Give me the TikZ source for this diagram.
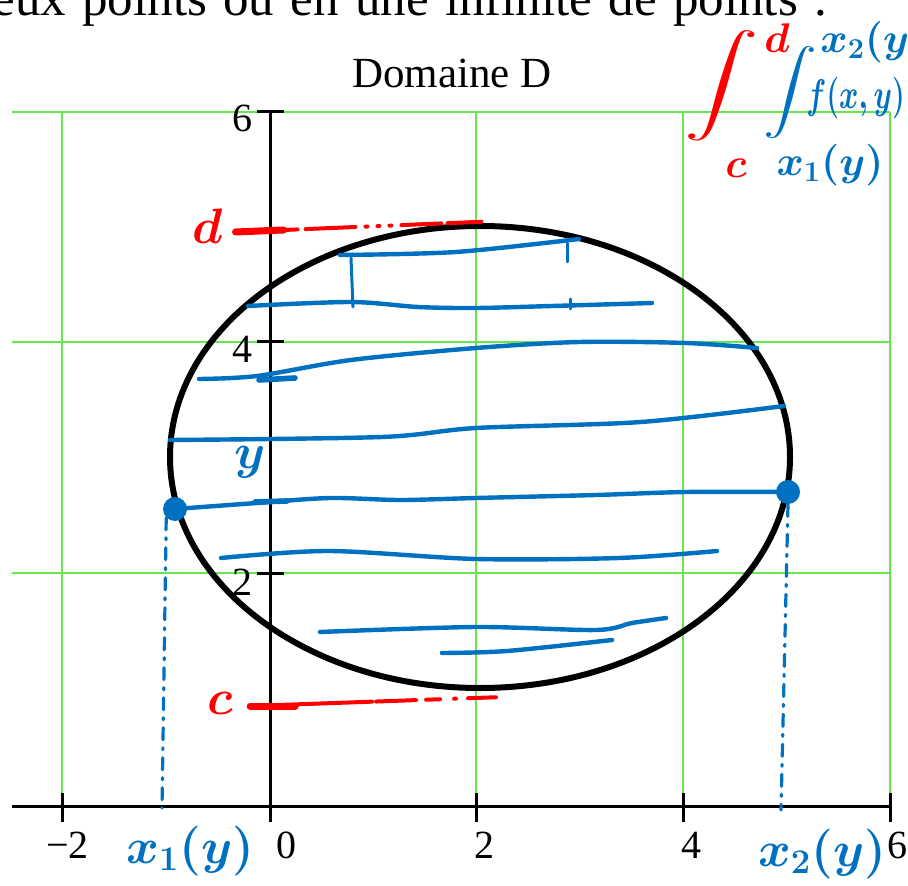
\documentclass[tikz,border=0pt]{standalone}
\usepackage{amsmath}
\usepackage{fontspec}
\setmainfont{Liberation Serif}
\usetikzlibrary{positioning,calc}
\definecolor{gridgreen}{RGB}{102,232,76}
\definecolor{penblue}{RGB}{0,112,192}
\definecolor{penred}{RGB}{255,0,0}

\begin{document}
\begin{tikzpicture}[x=0.5pt, y=-0.5pt,
    every node/.style={inner sep=0pt},
    gridline/.style={gridgreen, line width=1pt},
    axisline/.style={black, line width=1.5pt},
    ticklabel/.style={font=\fontsize{20}{24}\selectfont},
    bluepen/.style={penblue, line width=2.2pt, line cap=round, line join=round},
    bluedash/.style={penblue, line width=1.6pt, line cap=round, dash pattern=on 6pt off 4pt on 1pt off 4pt},
    redpen/.style={penred, line width=2pt, line cap=round},
    bluehand/.style={text=penblue, font=\fontsize{26}{30}\selectfont\boldmath},
    redhand/.style={text=penred, font=\fontsize{26}{30}\selectfont\boldmath},
    penpoint/.style={circle, fill=penblue, minimum size=12pt}]
  \useasboundingbox (0,0) rectangle (908,886);
  \clip (0,0) rectangle (908,886);
  \fill[white] (0,0) rectangle (908,886);

  \node[anchor=base west, font=\fontsize{25.5}{30}\selectfont] (intro) at (-8,16) {\spaceskip=0.32em eux points ou en une infinité de points .};
  \node[anchor=base west, font=\fontsize{21.5}{26}\selectfont] (title) at (352,88) {Domaine D};

  \foreach \gx in {62,476,683,890}
    \draw[gridline] (\gx,112) -- (\gx,806);
  \foreach \gy in {112,342,573}
    \draw[gridline] (12,\gy) -- (890,\gy);
  \draw[axisline] (12,806) -- (890,806);
  \draw[axisline] (270,112) -- (270,822);
  \foreach \gx in {62,476,683,890}
    \draw[axisline] (\gx,793) -- (\gx,822);
  \foreach \gy in {112,342,573}
    \draw[axisline] (257,\gy) -- (284,\gy);

  \node[ticklabel, anchor=base west] (xm2) at (46,858) {−2};
  \node[ticklabel, anchor=base west] (x0) at (276,858) {0};
  \node[ticklabel, anchor=base west] (x2) at (474,858) {2};
  \node[ticklabel, anchor=base west] (x4) at (681,858) {4};
  \node[ticklabel, anchor=base west] (x6) at (887,858) {6};
  \node[ticklabel, anchor=base east] (y6) at (253,132) {6};
  \node[ticklabel, anchor=base east] (y4) at (253,363) {4};
  \node[ticklabel, anchor=base east] (y2) at (253,595) {2};

  \draw[line width=3pt] (480,457) ellipse [x radius=310, y radius=231];

  \draw[bluepen] plot[smooth] coordinates {(340,255) (456,252) (579,239)};
  \draw[bluepen, line width=1.5pt] (351,258) -- (353,307);
  \draw[bluepen, line width=1.5pt] (567,243) -- (567,262);
  \draw[bluepen, line width=1.5pt] (570,299) -- (570,309);
  \draw[bluepen] plot[smooth] coordinates {(248,306) (351,302) (418,307) (476,308) (552,306) (652,303)};
  \draw[bluepen] plot[smooth] coordinates {(199,379) (257,376) (351,360) (476,348) (579,342) (686,343) (757,348)};
  \draw[bluepen, line width=2.8pt] (259,380) -- (295,378);
  \draw[bluepen] plot[smooth] coordinates {(170,440) (382,437) (476,428) (641,422) (784,406)};
  \draw[bluepen] plot[smooth] coordinates {(221,558) (329,551) (476,559) (619,558) (717,551)};
  \draw[bluepen] plot[smooth] coordinates {(320,632) (476,627) (596,630) (632,623) (666,618)};
  \draw[bluepen] plot[smooth] coordinates {(442,653) (507,651) (612,640)};

  \node[penpoint] (x1pt) at (175,509) {};
  \node[penpoint] (x2pt) at (788,492) {};
  \draw[bluepen] plot[smooth] coordinates {(x1pt) (257,503) (330,498) (400,500) (476,498) (596,495) (686,492) (x2pt)};
  \draw[bluepen, line width=2.8pt] (255,502) -- (287,501);
  \coordinate (x1foot) at (162,808);
  \coordinate (x2foot) at (781,810);
  \draw[bluedash] (x1pt.south west) -- (x1foot);
  \draw[bluedash] (x2pt.south) -- (x2foot);

  \node[bluehand] (lx1) at (190,851) {$x_1(y)$};
  \node[bluehand] (lx2) at (822,854) {$x_2(y)$};
  \node[bluehand] (ly) at (250,462) {$y$};

  \node[redhand, font=\fontsize{38}{42}\selectfont\boldmath] (ld) at (208,226) {$d$};
  \node[redhand, font=\fontsize{32}{36}\selectfont\boldmath] (lc) at (220,703) {$c$};
  \coordinate (dtop) at (500,221);
  \coordinate (cbot) at (503,697);
  \draw[redpen, dash pattern=on 31pt off 4pt on 25pt off 5pt on 1pt off 5pt on 1pt off 5pt on 1pt off 5pt on 20pt off 3pt on 17pt] (ld.east) ++(12,6) -- (dtop);
  \draw[redpen, line width=3.5pt] (ld.east) ++(12,6) -- ++(48,-2);
  \draw[redpen, dash pattern=on 61pt off 2pt on 20pt off 5pt on 7pt off 7pt on 1pt off 6pt on 14pt] (lc.east) ++(17,3) -- (cbot);
  \draw[redpen, line width=3.5pt] (lc.east) ++(17,3) -- ++(45,0);

  \node[text=penred] (redint) at (722,86) {\fontsize{31}{33}\selectfont\scalebox{1.5}[1]{$\displaystyle\int$}};
  \node[redhand, font=\fontsize{22}{26}\selectfont\boldmath] (ltopd) at (777,38) {$d$};
  \node[redhand, font=\fontsize{20}{24}\selectfont\boldmath] (ltopc) at (736,168) {$c$};
  \node[text=penblue] (blueint) at (790,93) {\fontsize{22}{24}\selectfont\scalebox{1.3}[1]{$\displaystyle\int$}};
  \node[bluehand, font=\fontsize{20}{24}\selectfont\boldmath, anchor=west] (ltopx2) at (820,42) {$x_2(y)$};
  \node[bluehand, font=\fontsize{17}{20}\selectfont\boldmath, anchor=west] (lf) at (806,98) {\scalebox{0.85}[1.2]{$f(x,y)\,dx$}};
  \node[bluehand, font=\fontsize{21}{24}\selectfont\boldmath] (ltopx1) at (830,165) {$x_1(y)$};
\end{tikzpicture}
\end{document}
